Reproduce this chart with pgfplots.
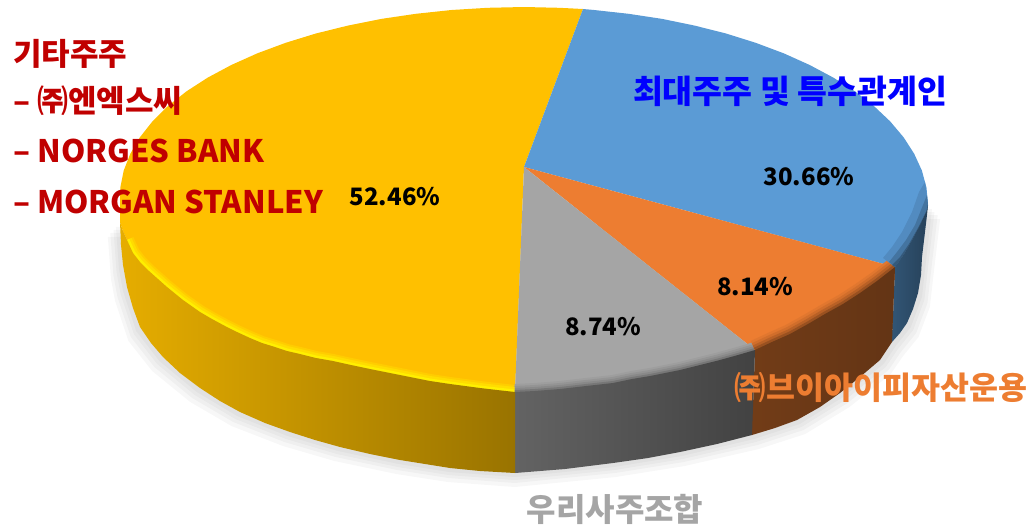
\documentclass[border=0pt]{standalone}
\usepackage{fontspec}
\setmainfont{Noto Sans CJK KR}
\usepackage{pgfplots}
\pgfplotsset{compat=1.18}
\usepackage{pgfplotstable}
\definecolor{pieYellow}{HTML}{FFC000}
\definecolor{pieBlue}{HTML}{5B9BD5}
\definecolor{pieOrange}{HTML}{ED7D31}
\definecolor{pieGray}{HTML}{A5A5A5}
\definecolor{txtRed}{HTML}{C00000}

% outer bottom silhouette, used for the soft shadow
\pgfplotstableread{
x y
120 223
123 265
127 287
140 327
163 357
200 388
240 412
290 432
340 447
400 460
450 468
515 473
613 463
680 452
752 435
797 420
840 393
880 360
892 342
907 323
918 293
922 257
928 205
}\shadowtbl

% rim of the top face, front part
\pgfplotstableread{
x y
127 240
133 253
140 262
149 271
158 279
167 287
183 300
200 312
212 319
225 326
237 332
250 338
262 343
275 347
287 351
300 354
316 358
333 361
351 365
370 369
390 373
410 377
430 381
450 384
465 386
480 388
497 390
515 392
}\rimYellow
\pgfplotstableread{
x y
515 392
535 391
560 389
586 386
613 383
632 379
650 376
665 373
680 370
700 365
720 360
738 355
755 350
}\rimGray
\pgfplotstableread{
x y
755 350
772 342
790 334
808 324
825 314
843 304
860 293
877 281
895 267
}\rimOrange

\newcommand{\lbl}[1]{\fontsize{#1}{#1}\selectfont\bfseries}

\begin{document}
\begin{tikzpicture}
\begin{axis}[
    scale only axis, width=1030pt, height=528pt,
    xmin=0, xmax=1030, ymin=0, ymax=528, y dir=reverse,
    hide axis, clip=false,
    rim/.style={no markers, line join=round},
]
% keeps the page at the full canvas
\addplot[draw=none, forget plot] coordinates {(0,0)(1030,528)};

% shadow layers
\addplot[fill=black, draw=none, opacity=0.03] table[x expr=524+(\thisrow{x}-524)*1.03, y expr=\thisrow{y}+14] {\shadowtbl} -- cycle;
\addplot[fill=black, draw=none, opacity=0.03] table[x expr=524+(\thisrow{x}-524)*1.024, y expr=\thisrow{y}+10] {\shadowtbl} -- cycle;
\addplot[fill=black, draw=none, opacity=0.03] table[x expr=524+(\thisrow{x}-524)*1.016, y expr=\thisrow{y}+7] {\shadowtbl} -- cycle;
\addplot[fill=black, draw=none, opacity=0.03] table[x expr=524+(\thisrow{x}-524)*1.01, y expr=\thisrow{y}+4] {\shadowtbl} -- cycle;

% top face: 52.46 share
\addplot[fill=pieYellow, draw=none] coordinates {
(524,167)(583,9)(559.2,7.8)(524,7)(487.6,7.8)(451.5,10)(415.9,13.8)(381.3,18.9)(347.9,25.6)(315.9,33.5)
(285.7,42.8)(257.4,53.3)(231.3,65)(207.6,77.7)(186.4,91.4)(168,106)(152.5,121.3)(139.9,137.3)(130.3,153.8)
(123.7,170.6)(120.3,187.7)(120,205)(120,222)(123,231)(127,240)(133,253)(140,262)(149,271)(158,279)(167,287)
(183,300)(200,312)(212,319)(225,326)(237,332)(250,338)(262,343)(275,347)(287,351)(300,354)(316,358)(333,361)
(351,365)(370,369)(390,373)(410,377)(430,381)(450,384)(465,386)(480,388)(497,390)(515,392)
} -- cycle;
% top face: 30.66 share
\addplot[fill=pieBlue, draw=none] coordinates {
(524,167)(895,267)(904,254)(912,240)(920,225)(927,210)(928,205)(926.5,187.7)(921.9,170.6)(914.2,153.8)
(903.6,137.3)(890.1,121.3)(873.9,106)(855,91.4)(833.5,77.7)(809.7,65)(783.7,53.3)(755.7,42.8)(726,33.5)
(694.7,25.6)(662.2,18.9)(628.6,13.8)(594.1,10)(583,9)
} -- cycle;
% top face: 8.14 share
\addplot[fill=pieOrange, draw=none] coordinates {
(524,167)(755,350)(772,342)(790,334)(808,324)(825,314)(843,304)(860,293)(877,281)(895,267)
} -- cycle;
% top face: 8.74 share
\addplot[fill=pieGray, draw=none] coordinates {
(524,167)(515,392)(535,391)(560,389)(586,386)(613,383)(632,379)(650,376)(665,373)(680,370)(700,365)(720,360)(738,355)(755,350)
} -- cycle;

% bevel along the rim, outer half is covered by the side faces
\addplot[rim, draw=pieYellow!80!yellow, line width=14pt] table {\rimYellow};
\addplot[rim, draw=pieYellow!55!yellow, line width=10pt] table {\rimYellow};
\addplot[rim, draw=pieYellow!25!yellow, line width=5pt] table {\rimYellow};
\addplot[rim, draw=pieGray!96!black, line width=16pt] table {\rimGray};
\addplot[rim, draw=pieGray!90!black, line width=12pt] table {\rimGray};
\addplot[rim, draw=pieGray!83!black, line width=8pt] table {\rimGray};
\addplot[rim, draw=pieGray!72!black, line width=4pt] table {\rimGray};
\addplot[rim, draw=pieOrange!95!black, line width=20pt] table {\rimOrange};
\addplot[rim, draw=pieOrange!88!black, line width=15pt] table {\rimOrange};
\addplot[rim, draw=pieOrange!78!black, line width=10pt] table {\rimOrange};
\addplot[rim, draw=pieOrange!65!black, line width=5pt] table {\rimOrange};
% blue rim tapers out towards the right end, so it is filled
\addplot[fill=pieBlue!90!black, draw=none] coordinates {
(895,267)(904,254)(912,240)(920,225)(927,210)(928,205)(925,182)(919,192)(912,212)(902,232)(892,247)(883,258)
} -- cycle;
\addplot[fill=pieBlue!75!black, draw=none] coordinates {
(895,267)(904,254)(912,240)(920,225)(927,210)(928,205)(927,195)(923,205)(915,225)(906,240)(897,252)(889,262)
} -- cycle;
\addplot[fill=pieBlue!58!black, draw=none] coordinates {
(895,267)(904,254)(912,240)(920,225)(927,210)(928,205)(926,212)(918,228)(909,244)(900,257)(892,265)
} -- cycle;

% side faces
\addplot[draw=none, left color=pieBlue!55!black, right color=pieBlue!42!black] coordinates {
(895,267)(904,254)(912,240)(920,225)(927,210)(928,205)(927,215)(925,232)(922,257)(921,275)(918,293)(913,309)(907,323)(900,333)(892,342)
} -- cycle;
\addplot[draw=none, left color=pieOrange!48!black, right color=pieOrange!42!black] coordinates {
(755,350)(772,342)(790,334)(808,324)(825,314)(843,304)(860,293)(877,281)(895,267)(892,342)(880,360)(860,377)(840,393)(820,407)(797,420)(775,428)(752,435)
} -- cycle;
\addplot[draw=none, left color=pieGray!60!black, middle color=pieGray!42!black, right color=pieGray!40!black] coordinates {
(515,392)(535,391)(560,389)(586,386)(613,383)(632,379)(650,376)(665,373)(680,370)(700,365)(720,360)(738,355)(755,350)(752,435)(717,444)(680,452)(648,458)(613,463)(565,469)(515,473)
} -- cycle;
\addplot[draw=none, left color=pieYellow!90!black, right color=pieYellow!60!black] coordinates {
(120,222)(123,231)(127,240)(133,253)(140,262)(149,271)(158,279)(167,287)(183,300)(200,312)(212,319)(225,326)(237,332)(250,338)(262,343)(275,347)(287,351)(300,354)(316,358)(333,361)(351,365)(370,369)(390,373)(410,377)(430,381)(450,384)(465,386)(480,388)(497,390)(515,392)(515,473)(480,471)(450,468)(425,464)(400,460)(370,454)(340,447)(315,440)(290,432)(265,423)(240,412)(220,401)(200,388)(180,373)(163,357)(151,343)(140,327)(133,308)(127,287)(123,265)(121,245)
} -- cycle;

% share labels
\node[font=\lbl{24}, text=black] at (axis cs:395,197) {52.46\%};
\node[font=\lbl{24}, text=black] at (axis cs:809,177) {30.66\%};
\node[font=\lbl{24}, text=black] at (axis cs:755,287) {8.14\%};
\node[font=\lbl{24}, text=black] at (axis cs:603,327) {8.74\%};

% holder labels
\node[font=\lbl{32.5}, text=blue, inner sep=0pt] at (axis cs:790,91) {최대주주 및 특수관계인};
\node[font=\lbl{31.5}, text=pieOrange, inner sep=0pt] at (axis cs:881,388) {㈜브이아이피자산운용};
\node[font=\lbl{32}, text=pieGray, inner sep=0pt] at (axis cs:615,509) {우리사주조합};
\node[font=\lbl{31}, text=txtRed, inner sep=0pt, anchor=west] at (axis cs:13,54) {기타주주};
\node[font=\lbl{31}, text=txtRed, inner sep=0pt, anchor=west] at (axis cs:13,101) {– ㈜엔엑스씨};
\node[font=\lbl{31}, text=txtRed, inner sep=0pt, anchor=west] at (axis cs:13,151) {– NORGES BANK};
\node[font=\lbl{31}, text=txtRed, inner sep=0pt, anchor=west] at (axis cs:13,202) {– MORGAN STANLEY};
\end{axis}
\end{tikzpicture}
\end{document}
